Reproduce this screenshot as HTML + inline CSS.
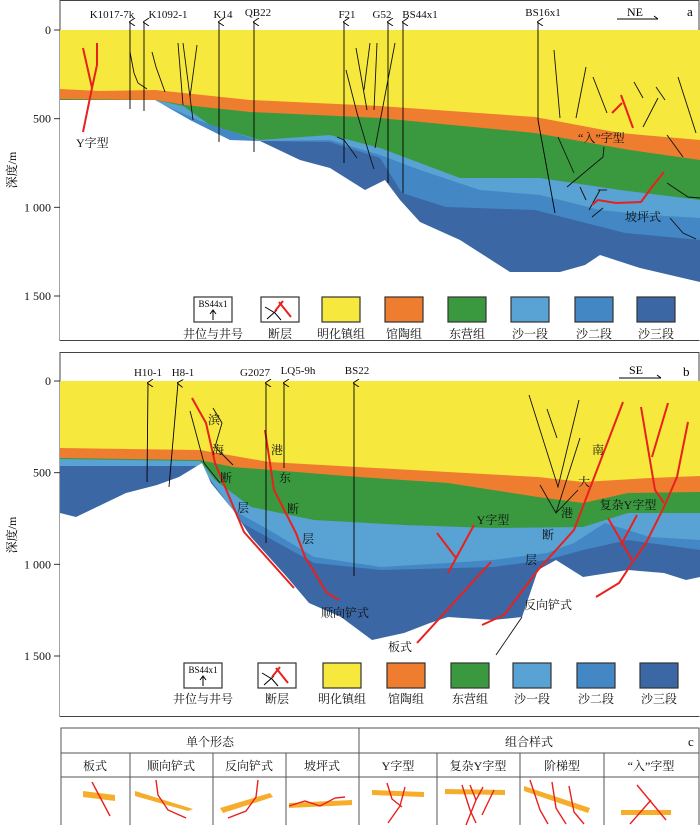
<!DOCTYPE html>
<html><head><meta charset="utf-8"><style>
html,body{margin:0;padding:0;background:#fff;}
svg{display:block;font-family:"Liberation Serif","Noto Serif CJK SC",serif;}
</style></head><body>
<svg id="fig" width="700" height="825" viewBox="0 0 700 825" xmlns="http://www.w3.org/2000/svg">
<defs>
<marker id="ar" markerWidth="8" markerHeight="8" refX="4" refY="1" orient="auto" markerUnits="userSpaceOnUse"><path d="M0,6 L4,0 L8,6" fill="none" stroke="#000" stroke-width="0.9"/></marker>
</defs>
<!-- PANEL A -->
<g id="panelA">
<rect x="60" y="0.5" width="639" height="340" fill="#fff" stroke="#444"/>
<polygon fill="#f6e83d" points="60,30 700,30 700,300 60,300"/>
<polygon fill="#ee7d2f" points="60,89 100,91 155,90 250,100 380,106 535,117 620,133 700,140 700,300 60,300"/>
<polygon fill="#3a993f" points="60,99 155,100 185,105 250,112 380,118 535,133 630,150 700,160 700,300 60,300"/>
<polygon fill="#58a2d4" points="60,100 155,100 183,106 210,125 260,140 330,135 380,148 460,178 540,178 620,190 700,200 700,300 60,300"/>
<polygon fill="#4387c5" points="60,100 155,101 200,121 260,141 330,140 380,155 420,170 480,190 540,195 600,210 650,215 700,218 700,300 60,300"/>
<polygon fill="#3b67a5" points="60,100 155,102 230,140 260,141 330,142 380,158 402,193 446,207 535,210 625,233 700,240 700,300 60,300"/>
<polygon fill="#fff" points="60,100 155,100 190,120 230,140 260,141 300,160 330,168 365,190 385,180 400,200 420,222 460,240 510,272 560,272 585,265 600,255 640,268 700,282 700,340 60,340"/>
<g fill="none" stroke="#111" stroke-width="0.9">
<polyline points="130,52 134,73 138,83 147,89"/><polyline points="152,52 156,67 165,92"/>
<polyline points="178,43 183,105"/><polyline points="183,43 193,120"/><polyline points="197,45 190,97"/>
<polyline points="356,48 367,110"/><polyline points="370,43 364,90"/><polyline points="377,43 374,110"/>
<polyline points="395,43 375,148"/><polyline points="346,70 357,113 371,160 374,169"/>
<polyline points="337,137 344,140 357,158"/>
<polyline points="554,50 560,118"/><polyline points="586,67 576,118"/><polyline points="593,77 607,113"/>
<polyline points="634,82 643,98"/><polyline points="658,98 643,127"/><polyline points="656,87 665,100"/>
<polyline points="678,77 696,133"/><polyline points="667,135 683,157"/><polyline points="558,137 574,173"/>
<polyline points="604,147 603,157 567,187"/><polyline points="580,187 586,200"/>
<polyline points="598,190 607,190"/><polyline points="600,190 589,210"/><polyline points="592,217 603,208"/>
<polyline points="667,183 688,197 700,198"/><polyline points="670,218 683,233 696,239"/>
</g>
<g fill="none" stroke="#e8211d" stroke-width="2">
<polyline points="83,48 92,88 83,132"/><polyline points="97,43 97,65 92,88"/>
<polyline points="612,113 622,103"/><polyline points="621,95 633,128"/>
<polyline points="592,205 598,200 616,203 641,202 652,187 664,172"/>
</g>
<g stroke="#000" stroke-width="0.9" marker-end="url(#ar)">
<line x1="130" y1="109" x2="130" y2="22"/><line x1="144" y1="111" x2="144" y2="22"/>
<line x1="219" y1="142" x2="219" y2="22"/><line x1="254" y1="152" x2="254" y2="22"/>
<line x1="344" y1="163" x2="344" y2="22"/><line x1="388" y1="183" x2="388" y2="22"/>
<line x1="403" y1="193" x2="403" y2="22"/>
</g>
<polyline points="555,213 538,120 538,22" fill="none" stroke="#000" stroke-width="0.9" marker-end="url(#ar)"/>
<g font-size="11" text-anchor="middle" fill="#111">
<text x="112" y="18">K1017-7k</text><text x="168" y="18">K1092-1</text><text x="223" y="18">K14</text>
<text x="258" y="16">QB22</text><text x="347" y="18">F21</text><text x="382" y="18">G52</text>
<text x="420" y="18">BS44x1</text><text x="543" y="16">BS16x1</text>
</g>
<text x="635" y="16" font-size="12" text-anchor="middle">NE</text>
<line x1="617" y1="19" x2="658" y2="19" stroke="#000"/><line x1="654" y1="16" x2="658" y2="19" stroke="#000"/>
<text x="687" y="16" font-size="13">a</text>
<g font-size="12" fill="#111">
<text x="76" y="147">Y字型</text><text x="578" y="142">“入”字型</text><text x="625" y="221">坡坪式</text>
</g>
<g id="axisA"></g>
<text transform="translate(16,170) rotate(-90)" font-size="12" text-anchor="middle">深度/m</text>
</g>

<!-- PANEL B -->
<g id="panelB">
<rect x="60" y="352.5" width="639" height="364" fill="#fff" stroke="#444"/>
<polygon fill="#f6e83d" points="60,381 700,381 700,660 60,660"/>
<polygon fill="#ee7d2f" points="60,448 200,450 269,462 448,472 538,477 583,482 650,478 700,476 700,660 60,660"/>
<polygon fill="#3a993f" points="60,458 200,460 233,467 359,477 448,483 538,497 583,503 628,493 700,492 700,660 60,660"/>
<polygon fill="#58a2d4" points="60,459 200,461 215,480 251,507 314,520 404,525 493,528 583,527 628,513 700,513 700,660 60,660"/>
<polygon fill="#4387c5" points="60,466 200,466 233,510 269,530 314,557 381,567 448,563 493,560 547,553 574,543 605,523 650,537 700,540 700,660 60,660"/>
<polygon fill="#3b67a5" points="60,466 200,466 242,523 314,563 381,570 493,567 547,560 583,550 628,540 700,550 700,660 60,660"/>
<polygon fill="#fff" points="60,513 76,517 126,493 157,485 179,477 202,463 211,483 233,510 251,537 287,577 309,603 341,617 372,640 404,633 430,623 448,617 493,620 522,617 538,570 556,560 583,577 628,570 664,573 686,580 700,577 700,716 60,716"/>
<g fill="none" stroke="#111" stroke-width="0.9">
<polyline points="190,411 204,463 220,483"/><polyline points="213,408 222,423 215,447 233,465"/>
<polyline points="529,395 558,487 579,400"/><polyline points="547,409 557,438"/>
<polyline points="540,485 556,513 578,490"/><polyline points="556,513 580,438"/>
<polyline points="522,617 496,655"/>
</g>
<g fill="none" stroke="#e8211d" stroke-width="2">
<polyline points="192,398 206,423 215,463 244,532 294,588"/>
<polyline points="265,430 274,490 296,533 305,557 327,593 339,600"/>
<polyline points="474,525 448,573"/><polyline points="437,533 456,558"/>
<polyline points="417,643 491,562"/>
<polyline points="482,625 504,615 538,570 574,530 623,402"/>
<polyline points="641,407 655,490 664,503"/><polyline points="668,403 652,457"/>
<polyline points="688,422 677,477 664,507 646,543 632,563 619,583 596,597"/>
<polyline points="608,518 632,560"/><polyline points="637,515 621,545"/>
</g>
<g stroke="#000" stroke-width="0.9" marker-end="url(#ar)">
<line x1="147" y1="482" x2="148" y2="383"/><line x1="169" y1="487" x2="178" y2="383"/>
<line x1="266" y1="543" x2="266" y2="383"/><line x1="284" y1="468" x2="284" y2="383"/>
<line x1="354" y1="576" x2="354" y2="383"/>
</g>
<g font-size="11" text-anchor="middle" fill="#111">
<text x="148" y="376">H10-1</text><text x="183" y="376">H8-1</text><text x="255" y="376">G2027</text>
<text x="298" y="374">LQ5-9h</text><text x="357" y="374">BS22</text>
</g>
<text x="636" y="374" font-size="12" text-anchor="middle">SE</text>
<line x1="619" y1="378" x2="661" y2="378" stroke="#000"/><line x1="657" y1="375" x2="661" y2="378" stroke="#000"/>
<text x="683" y="376" font-size="13">b</text>
<g font-size="12" fill="#111" text-anchor="middle">
<text x="214" y="424">滨</text><text x="218" y="454">海</text><text x="226" y="482">断</text><text x="243" y="512">层</text>
<text x="277" y="454">港</text><text x="285" y="482">东</text><text x="293" y="513">断</text><text x="308" y="543">层</text>
<text x="598" y="454">南</text><text x="584" y="486">大</text><text x="567" y="517">港</text><text x="548" y="539">断</text><text x="531" y="564">层</text>
<text x="628" y="509">复杂Y字型</text><text x="493" y="524">Y字型</text><text x="345" y="617">顺向铲式</text>
<text x="400" y="651">板式</text><text x="548" y="609">反向铲式</text>
</g>
<g id="axisB"></g>
<text transform="translate(16,535) rotate(-90)" font-size="12" text-anchor="middle">深度/m</text>
</g>

<g id="legendA"></g>
<g id="legendB"></g>

<!-- PANEL C -->
<g id="panelC" font-size="12" fill="#111">
<rect x="61" y="728" width="638" height="100" fill="#fff" stroke="#555"/>
<line x1="61" y1="753" x2="699" y2="753" stroke="#555"/><line x1="61" y1="777" x2="699" y2="777" stroke="#555"/>
<line x1="359" y1="728" x2="359" y2="825" stroke="#555"/>
<g stroke="#555">
<line x1="130" y1="753" x2="130" y2="825"/><line x1="213" y1="753" x2="213" y2="825"/><line x1="286" y1="753" x2="286" y2="825"/>
<line x1="437" y1="753" x2="437" y2="825"/><line x1="520" y1="753" x2="520" y2="825"/><line x1="604" y1="753" x2="604" y2="825"/>
</g>
<g text-anchor="middle">
<text x="210" y="746">单个形态</text>
<text x="529" y="746">组合样式</text>
<text x="95" y="770">板式</text><text x="171" y="770">顺向铲式</text><text x="249" y="770">反向铲式</text><text x="322" y="770">坡坪式</text>
<text x="398" y="770">Y字型</text><text x="478" y="770">复杂Y字型</text><text x="562" y="770">阶梯型</text><text x="651" y="770">“入”字型</text>
</g>
<text x="688" y="746" font-size="13">c</text>
<g fill="#f7ad2c">
<polygon points="83,791 115,795 115,801 83,797"/><polygon points="135,791 193,809 188,811 135,796"/>
<polygon points="220,808 270,793 273,797 223,813"/><polygon points="289,803 352,800 352,805 289,808"/>
<polygon points="372,790 424,792 424,797 372,795"/><polygon points="445,789 505,790 505,795 445,794"/>
<polygon points="524,786 590,808 588,813 524,791"/><polygon points="621,810 671,810 671,815 621,815"/>
</g>
<g fill="none" stroke="#e8211d" stroke-width="1.4">
<line x1="92" y1="782" x2="110" y2="816"/>
<polyline points="156,780 158,795 168,810 186,818"/>
<polyline points="258,780 256,797 246,811 228,818"/>
<polyline points="289,806 305,801 320,806 335,798 345,797"/>
<polyline points="387,783 392,799 402,807"/><polyline points="405,787 400,806 388,823"/>
<polyline points="462,785 470,810 476,823"/><polyline points="470,785 476,800"/><polyline points="483,787 476,800 466,825"/><polyline points="494,790 482,815"/>
<polyline points="530,780 540,810 548,824"/><polyline points="552,782 556,808 566,824"/><polyline points="569,786 574,812 584,824"/>
<line x1="637" y1="785" x2="666" y2="820"/><line x1="651" y1="800" x2="630" y2="824"/>
</g>
</g>

<script>
// depth axis tick values (m)
var depthTicks = [0, 500, 1000, 1500];
var tickLabels = ["0", "500", "1 000", "1 500"];
// legend entries
var legendLabels = ["井位与井号", "断层", "明化镇组", "馆陶组", "东营组", "沙一段", "沙二段", "沙三段"];
var legendColors = [null, null, "#f6e83d", "#ee7d2f", "#3a993f", "#58a2d4", "#4387c5", "#3b67a5"];

var NS = "http://www.w3.org/2000/svg";
function mk(tag, attrs, parent) {
  var e = document.createElementNS(NS, tag);
  for (var k in attrs) e.setAttribute(k, attrs[k]);
  parent.appendChild(e);
  return e;
}
function drawAxis(gid, y0, y1500, prefix) {
  var g = document.getElementById(gid);
  var sc = function (d) { return y0 + (y1500 - y0) * d / 1500; };
  for (var i = 0; i < depthTicks.length; i++) {
    var y = sc(depthTicks[i]);
    var l = mk("line", {x1: 54, x2: 60, y1: y, y2: y, stroke: "#333"}, g);
    
    
    var t = mk("text", {x: 51, y: y + 4, "font-size": 12, "text-anchor": "end", fill: "#111"}, g);
    t.textContent = tickLabels[i];
    
    
  }
}
drawAxis("axisA", 30, 296, "a");
drawAxis("axisB", 381, 656, "b");

function drawLegend(gid, xs, yTop, yText) {
  var g = document.getElementById(gid);
  for (var i = 0; i < legendLabels.length; i++) {
    var x = xs[i];
    var it = mk("g", {}, g);
    
    
    mk("rect", {x: x, y: yTop, width: 38, height: 25, fill: legendColors[i] || "#fff", stroke: "#333", "stroke-width": 1.2}, it);
    if (i === 0) {
      var t0 = mk("text", {x: x + 19, y: yTop + 10, "font-size": 9, "text-anchor": "middle"}, it);
      t0.textContent = "BS44x1";
      mk("line", {x1: x + 19, x2: x + 19, y1: yTop + 23, y2: yTop + 14, stroke: "#000"}, it);
      mk("polyline", {points: (x+16)+","+(yTop+17)+" "+(x+19)+","+(yTop+13)+" "+(x+22)+","+(yTop+17), fill: "none", stroke: "#000"}, it);
    }
    if (i === 1) {
      mk("polyline", {points: (x+4)+","+(yTop+10)+" "+(x+14)+","+(yTop+16)+" "+(x+20)+","+(yTop+23), fill: "none", stroke: "#000"}, it);
      mk("line", {x1: x+6, y1: yTop+22, x2: x+16, y2: yTop+13, stroke: "#000"}, it);
      mk("line", {x1: x+14, y1: yTop+14, x2: x+22, y2: yTop+4, stroke: "#e8211d", "stroke-width": 2}, it);
      mk("line", {x1: x+18, y1: yTop+5, x2: x+30, y2: yTop+20, stroke: "#e8211d", "stroke-width": 2}, it);
    }
    var t = mk("text", {x: x + 19, y: yText, "font-size": 12, "text-anchor": "middle", fill: "#111"}, it);
    t.textContent = legendLabels[i];
  }
}
drawLegend("legendA", [194, 261, 322, 385, 448, 511, 575, 637], 297, 338);
drawLegend("legendB", [184, 258, 323, 387, 451, 513, 577, 640], 663, 703);
</script>
</svg>
</body></html>
